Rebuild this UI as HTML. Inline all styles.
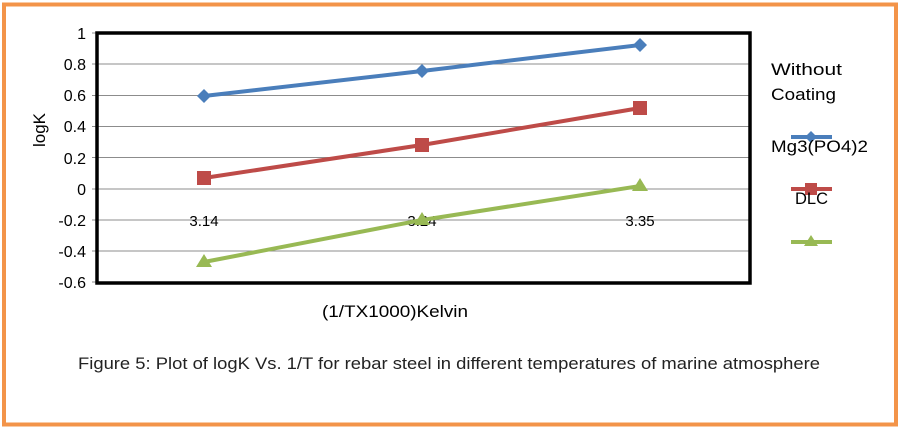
<!DOCTYPE html>
<html><head><style>
body{margin:0;background:#fff;}
svg{display:block;}
</style></head><body>
<svg width="900" height="428" xmlns="http://www.w3.org/2000/svg" font-family="Liberation Sans, sans-serif">
<rect x="0" y="0" width="900" height="428" fill="#fff"/>
<rect x="4" y="4.5" width="892" height="420" fill="none" stroke="#f39449" stroke-width="4"/>
<g stroke="#8c8c8c" stroke-width="1">
<line x1="92" y1="64" x2="750" y2="64"/>
<line x1="92" y1="95.5" x2="750" y2="95.5"/>
<line x1="92" y1="126.5" x2="750" y2="126.5"/>
<line x1="92" y1="157.5" x2="750" y2="157.5"/>
<line x1="92" y1="189" x2="750" y2="189"/>
<line x1="92" y1="220" x2="750" y2="220"/>
<line x1="92" y1="251" x2="750" y2="251"/>
<line x1="92" y1="33" x2="96" y2="33"/>
<line x1="92" y1="282" x2="96" y2="282"/>
</g>
<rect x="97" y="33" width="653" height="250" fill="none" stroke="#000" stroke-width="3.5"/>
<g font-size="16" fill="#000" text-anchor="end">
<text x="86" y="39">1</text>
<text x="86" y="70">0.8</text>
<text x="86" y="101">0.6</text>
<text x="86" y="132">0.4</text>
<text x="86" y="164">0.2</text>
<text x="86" y="195">0</text>
<text x="86" y="226">-0.2</text>
<text x="86" y="257">-0.4</text>
<text x="86" y="288">-0.6</text>
</g>
<g font-size="15" fill="#000" text-anchor="middle">
<text x="204" y="226">3.14</text>
<text x="422" y="226">3.24</text>
<text x="640" y="226">3.35</text>
</g>
<text transform="translate(45,130) rotate(-90)" font-size="17" text-anchor="middle">logK</text>
<text x="322" y="317" font-size="17" textLength="146" lengthAdjust="spacingAndGlyphs">(1/TX1000)Kelvin</text>
<polyline points="204,96 422,71 640,45" fill="none" stroke="#4a7ebb" stroke-width="4"/>
<polyline points="204,178 422,145 640,108" fill="none" stroke="#be4b48" stroke-width="4"/>
<polyline points="204,262 422,220 640,186" fill="none" stroke="#98b954" stroke-width="4"/>
<g fill="#4a7ebb">
<polygon points="204,89 211,96 204,103 197,96"/>
<polygon points="422,64 429,71 422,78 415,71"/>
<polygon points="640,38 647,45 640,52 633,45"/>
</g>
<g fill="#be4b48">
<rect x="197" y="171" width="14" height="14"/>
<rect x="415" y="138" width="14" height="14"/>
<rect x="633" y="101" width="14" height="14"/>
</g>
<g fill="#98b954">
<polygon points="204,254 212,267 196,267"/>
<polygon points="422,212 430,225 414,225"/>
<polygon points="640,178 648,191 632,191"/>
</g>
<g font-size="17" fill="#000">
<text x="771" y="75" textLength="71" lengthAdjust="spacingAndGlyphs">Without</text>
<text x="771" y="100" textLength="65" lengthAdjust="spacingAndGlyphs">Coating</text>
</g>
<line x1="791" y1="137" x2="832" y2="137" stroke="#4a7ebb" stroke-width="4"/>
<polygon points="811,131 817,137 811,143 805,137" fill="#4a7ebb"/>
<text x="771" y="152" font-size="17" textLength="97" lengthAdjust="spacingAndGlyphs">Mg3(PO4)2</text>
<line x1="791" y1="189" x2="832" y2="189" stroke="#be4b48" stroke-width="4"/>
<rect x="805" y="183" width="12" height="12" fill="#be4b48"/>
<text x="795" y="204" font-size="17" textLength="33" lengthAdjust="spacingAndGlyphs">DLC</text>
<line x1="791" y1="242" x2="832" y2="242" stroke="#98b954" stroke-width="4"/>
<polygon points="811,235 818,246 804,246" fill="#98b954"/>
<text x="78" y="369" font-size="17" fill="#222" textLength="742" lengthAdjust="spacingAndGlyphs">Figure 5: Plot of logK Vs. 1/T for rebar steel  in different temperatures of marine atmosphere</text>
</svg>
</body></html>
